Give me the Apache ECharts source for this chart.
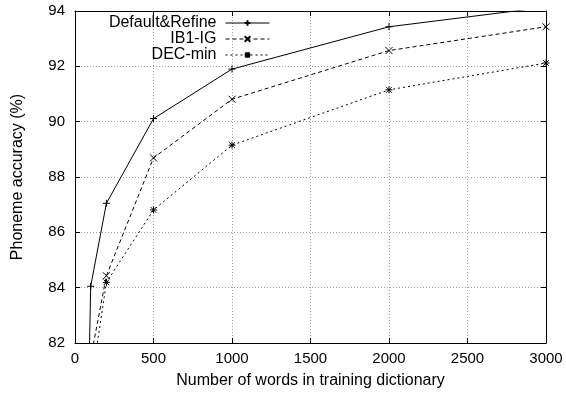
<!DOCTYPE html>
<html>
<head>
<meta charset="utf-8">
<script src="https://cdn.jsdelivr.net/npm/echarts@6/dist/echarts.min.js"></script>
<style>html,body{margin:0;padding:0;background:#fff}#c{width:566px;height:395px}</style>
</head>
<body>
<div id="c"></div>
<script>
const seriesNames = ['Default&Refine', 'IB1-IG', 'DEC-min'];
const defaultX = [50, 100, 200, 500, 1000, 2000, 3000];
const defaultY = [70.0, 84.05, 87.05, 90.11, 91.9, 93.43, 94.14];
const ib1X = [100, 200, 500, 1000, 2000, 3000];
const ib1Y = [81.45, 84.43, 88.69, 90.81, 92.57, 93.43];
const decX = [100, 200, 500, 1000, 2000, 3000];
const decY = [80.4, 84.19, 86.81, 89.15, 91.15, 92.12];
const xTicks = [0, 500, 1000, 1500, 2000, 2500, 3000];
const yTicks = [82, 84, 86, 88, 90, 92, 94];

const FONT = 'Liberation Sans, Arial, sans-serif';
const FS = 15;
const FN = 16;
const plus = 'path://M0,5L10,5M5,0L5,10';
const cross = 'path://M0,0L10,10M10,0L0,10';
const star = 'path://M0,5L10,5M5,0L5,10M1,1L9,9M9,1L1,9';

function zip(xs, ys) { return xs.map((x, i) => [x, ys[i]]); }

const chart = echarts.init(document.getElementById('c'), null, {renderer: 'canvas'});
const gridLine = {show: true, lineStyle: {color: '#a0a0a0', type: [1, 2], width: 1}};
const border = {show: true, onZero: false, lineStyle: {color: '#000', width: 1}};
const tick = {show: true, inside: true, length: 5, lineStyle: {color: '#000', width: 1}};

function mkSeries(name, data, sym, dash) {
  return {
    name: name, type: 'line', data: data, symbol: sym, symbolSize: 7,
    clip: true, animation: false,
    lineStyle: {color: '#000', width: 1, type: dash},
    itemStyle: {color: '#000', borderColor: '#000', borderWidth: 1}
  };
}

function mkLegend(name, top) {
  return {
    data: [name], right: 296, top: top, orient: 'vertical', align: 'right',
    padding: 0, itemWidth: 44, itemHeight: 7, selectedMode: false,
    lineStyle: {width: 1},
    textStyle: {fontFamily: FONT, fontSize: FN, color: '#000', padding: [0, 4, 0, 0]}
  };
}

chart.setOption({
  animation: false,
  backgroundColor: '#fff',
  grid: {left: 75, right: 20, top: 11, bottom: 52},
  legend: [mkLegend(seriesNames[0], 15), mkLegend(seriesNames[1], 31), mkLegend(seriesNames[2], 47)],
  xAxis: [{
    type: 'value', min: xTicks[0], max: xTicks[xTicks.length - 1], interval: 500,
    name: 'Number of words in training dictionary', nameLocation: 'middle', nameGap: 30,
    nameTextStyle: {fontFamily: FONT, fontSize: FN, color: '#000'},
    axisLine: border, axisTick: tick, splitLine: gridLine,
    axisLabel: {fontFamily: FONT, fontSize: FS, color: '#000', margin: 8, formatter: v => String(v)}
  }, {
    type: 'value', position: 'top', min: xTicks[0], max: xTicks[xTicks.length - 1], interval: 500,
    axisLine: border, axisTick: tick, splitLine: {show: false}, axisLabel: {show: false}
  }],
  yAxis: [{
    type: 'value', min: yTicks[0], max: yTicks[yTicks.length - 1], interval: 2,
    name: 'Phoneme accuracy (%)', nameLocation: 'middle', nameGap: 49,
    nameTextStyle: {fontFamily: FONT, fontSize: FN, color: '#000'},
    axisLine: border, axisTick: tick, splitLine: gridLine,
    axisLabel: {fontFamily: FONT, fontSize: FS, color: '#000', margin: 10, formatter: v => String(v)}
  }, {
    type: 'value', position: 'right', min: yTicks[0], max: yTicks[yTicks.length - 1], interval: 2,
    axisLine: border, axisTick: tick, splitLine: {show: false}, axisLabel: {show: false}
  }],
  series: [
    mkSeries(seriesNames[0], zip(defaultX, defaultY), plus, 'solid'),
    mkSeries(seriesNames[1], zip(ib1X, ib1Y), cross, [4, 3]),
    mkSeries(seriesNames[2], zip(decX, decY), star, [2, 3])
  ]
});
</script>
</body>
</html>
